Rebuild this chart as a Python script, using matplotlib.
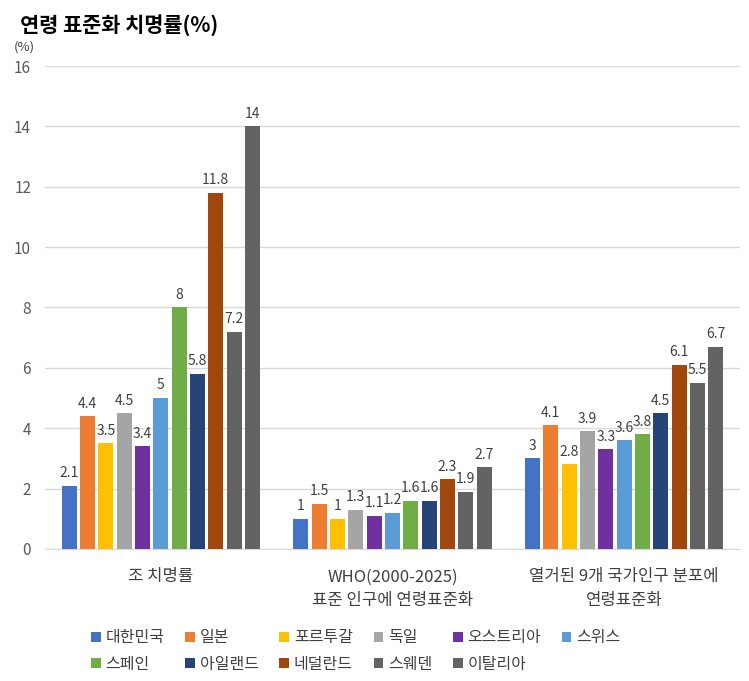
import matplotlib.pyplot as plt
import numpy as np

plt.rcParams['font.family'] = ['Noto Sans CJK KR', 'DejaVu Sans']

groups = ['조 치명률', 'WHO(2000-2025)\n표준 인구에 연령표준화', '열거된 9개 국가인구 분포에\n연령표준화']
countries = ['대한민국', '일본', '포르투갈', '독일', '오스트리아', '스위스',
             '스페인', '아일랜드', '네덜란드', '스웨덴', '이탈리아']
colors = ['#4472C4', '#ED7D31', '#FFC000', '#A5A5A5', '#7030A0', '#5B9BD5',
          '#70AD47', '#264478', '#9E480E', '#636363', '#636363']

crude = [2.1, 4.4, 3.5, 4.5, 3.4, 5, 8, 5.8, 11.8, 7.2, 14]
who_std = [1, 1.5, 1, 1.3, 1.1, 1.2, 1.6, 1.6, 2.3, 1.9, 2.7]
nine_std = [3, 4.1, 2.8, 3.9, 3.3, 3.6, 3.8, 4.5, 6.1, 5.5, 6.7]

values = np.array([crude, who_std, nine_std])  # rows: groups, cols: countries

fig = plt.figure(figsize=(7.49, 6.81), dpi=100)
ax = fig.add_axes([0.06, 0.194, 0.928, 0.709])

x = np.arange(len(groups))
n = len(countries)
slot = 0.87 / n
width = slot * 0.82
handles = []
for i, name in enumerate(countries):
    pos = x - 0.435 + slot * (i + 0.5)
    bars = ax.bar(pos, values[:, i], width, color=colors[i], label=name, zorder=3)
    labels = [f'{v:g}' for v in values[:, i]]
    ax.bar_label(bars, labels=labels, padding=4, fontsize=10, color='#404040')
    handles.append(bars)

ax.set_xlim(-0.5, 2.5)
ax.set_ylim(0, 16)
ax.set_yticks(range(0, 17, 2))
ax.yaxis.grid(True, color='#D9D9D9', linewidth=1, zorder=0)
ax.set_axisbelow(True)
for s in ['top', 'right', 'left']:
    ax.spines[s].set_visible(False)
ax.spines['bottom'].set_color('#D9D9D9')
ax.tick_params(axis='y', length=0, labelsize=11, labelcolor='#595959', pad=10)
ax.tick_params(axis='x', length=0, labelsize=12, labelcolor='#404040', pad=14)
ax.set_xticks(x)
ax.set_xticklabels(groups, linespacing=1.55)

fig.text(0.027, 0.978, '연령 표준화 치명률(%)', fontsize=15, fontweight='bold',
         color='black', va='top', ha='left')
fig.text(0.018, 0.931, '(%)', fontsize=9.5, color='#404040', ha='left', va='center')

order = [0, 6, 1, 7, 2, 8, 3, 9, 4, 10, 5]
fig.legend([handles[i] for i in order], [countries[i] for i in order],
           loc='center', bbox_to_anchor=(0.475, 0.044), ncol=6, frameon=False,
           fontsize=11.5, handlelength=0.6, handleheight=0.6, handletextpad=0.3,
           columnspacing=1.3, labelspacing=0.6, labelcolor='#404040')

fig.savefig('out.png', dpi=100)
